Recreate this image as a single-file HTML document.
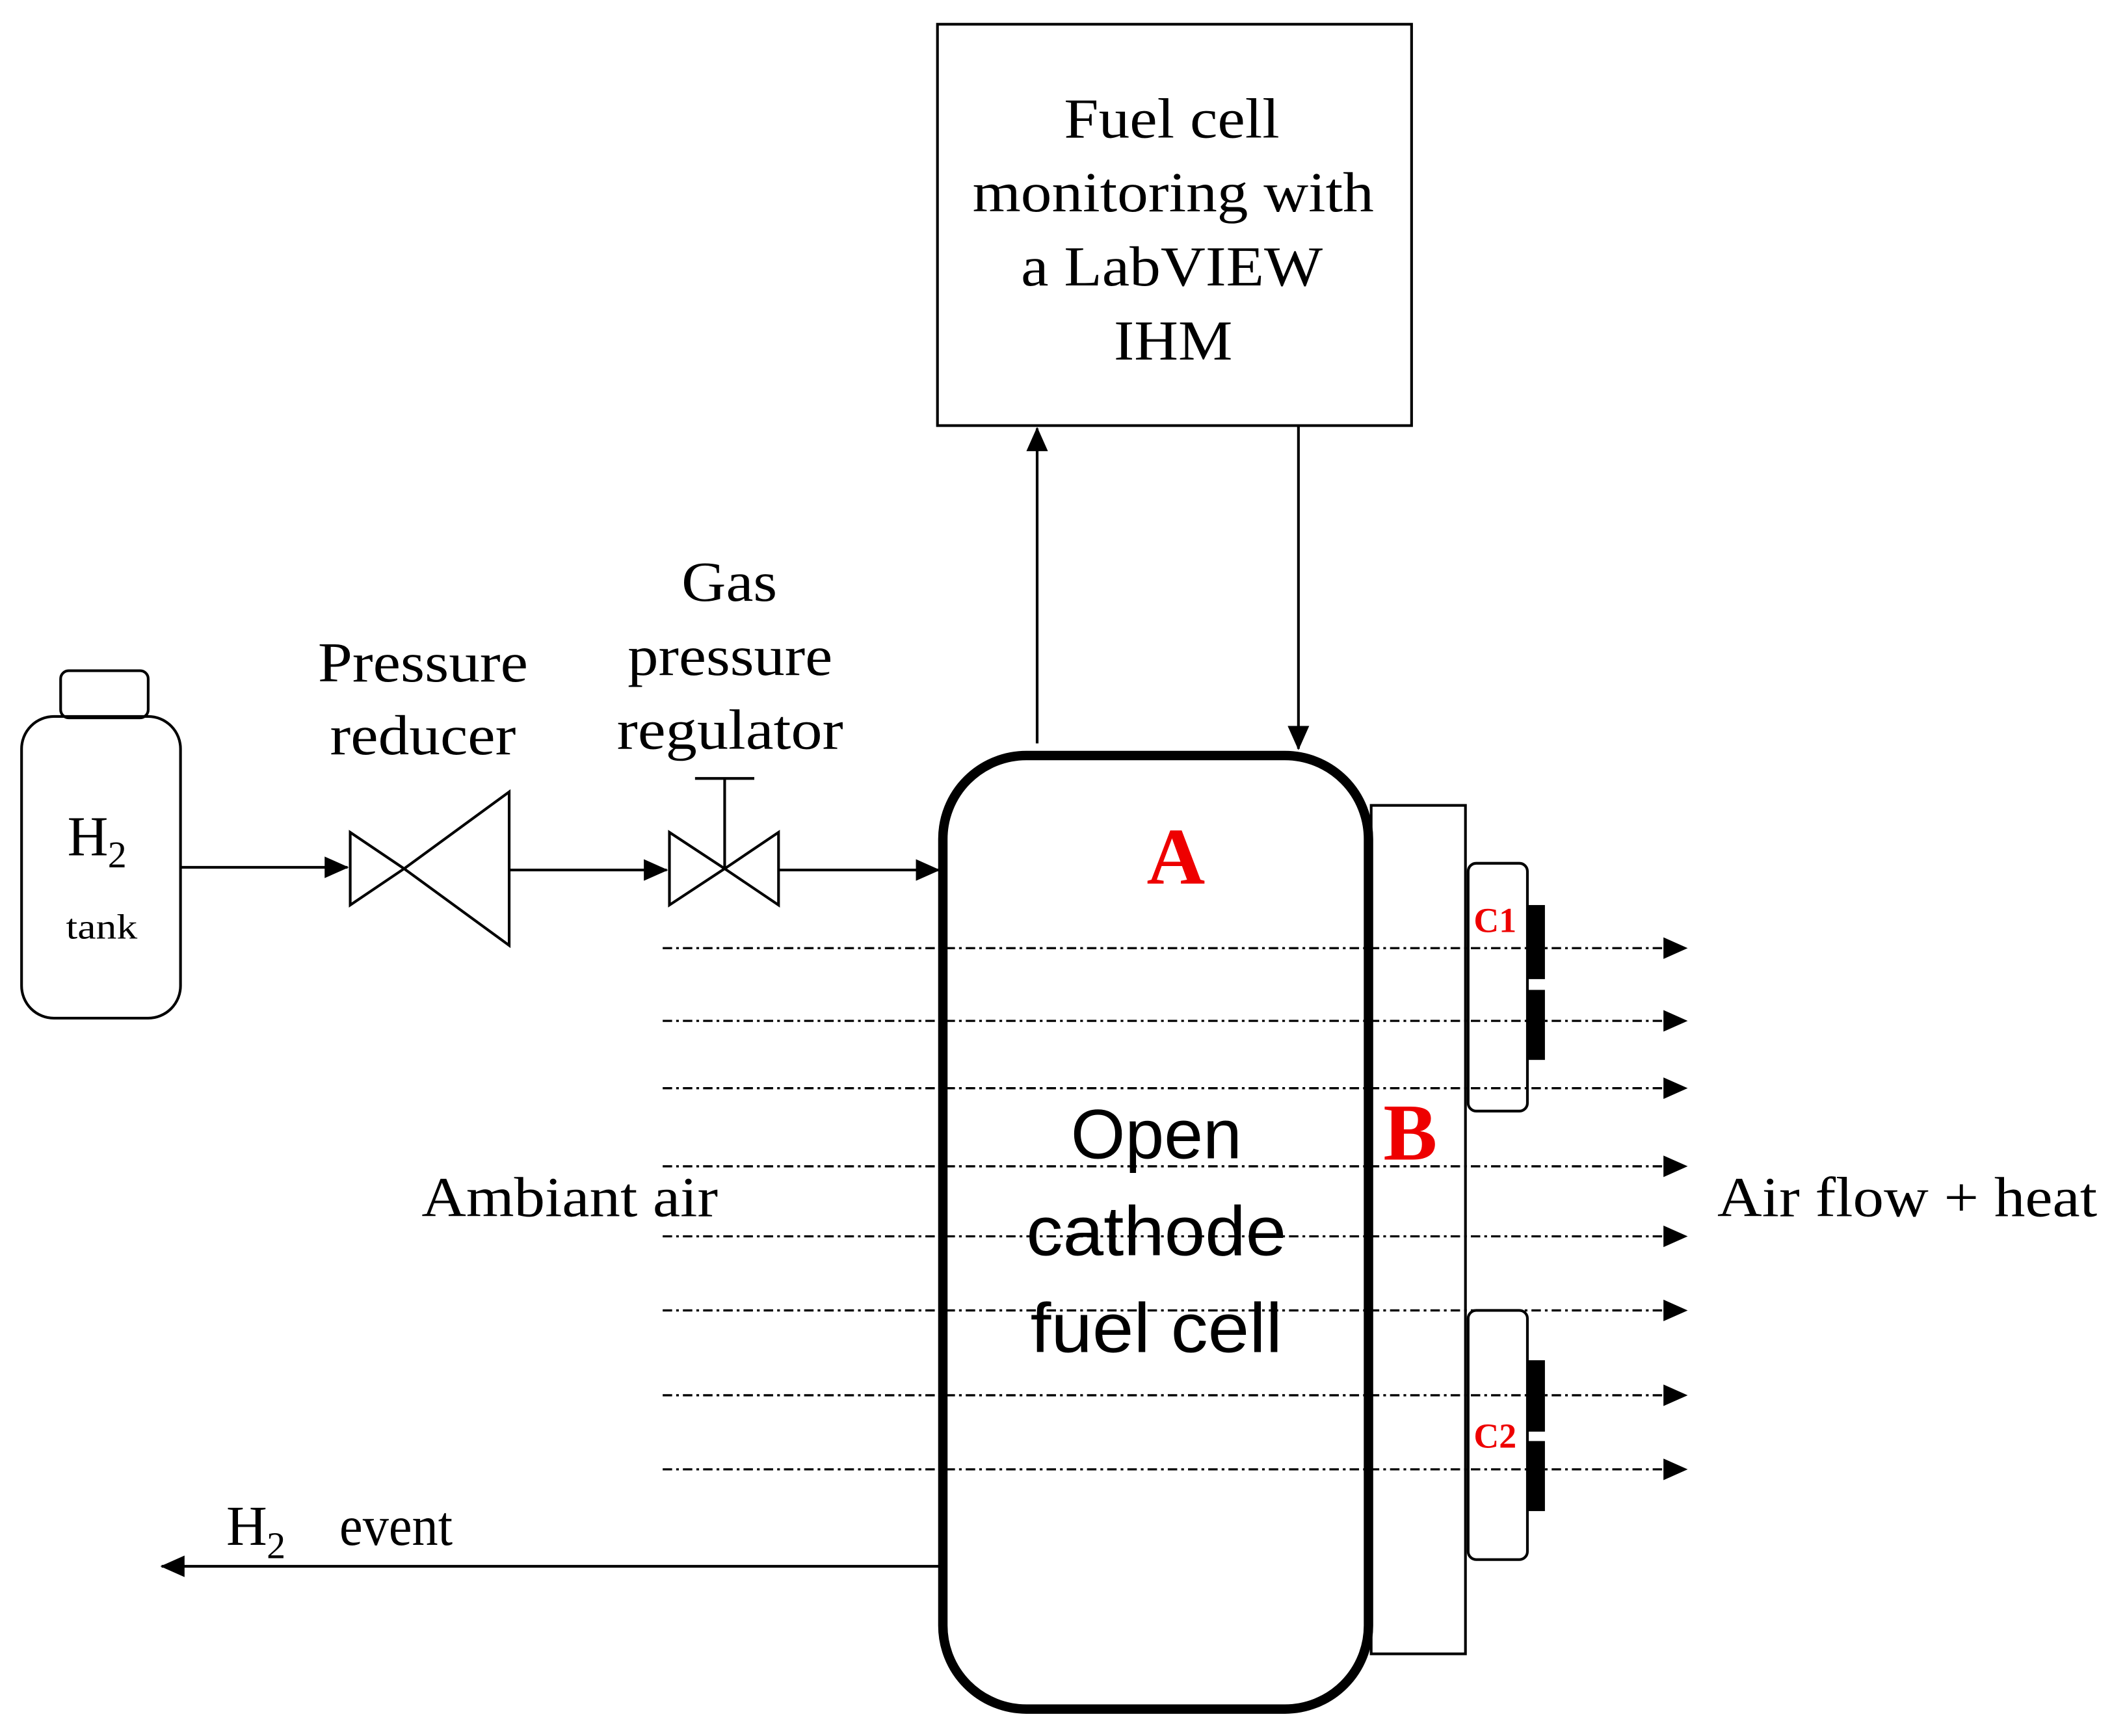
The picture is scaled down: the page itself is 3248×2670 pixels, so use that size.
<!DOCTYPE html>
<html><head><meta charset="utf-8"><style>html,body{margin:0;padding:0;background:#fff}svg{display:block}</style></head>
<body>
<svg width="3248" height="2670" viewBox="0 0 1568 1289" xmlns="http://www.w3.org/2000/svg">
<defs>
<marker id="ah2" markerWidth="18" markerHeight="16" refX="17" refY="8" orient="auto" markerUnits="userSpaceOnUse">
<path d="M0,0 L18,8 L0,16 z" fill="#000"/></marker>
</defs>
<g font-family="Liberation Serif, serif" fill="#000">
<rect x="696" y="18" width="352" height="298" fill="none" stroke="#000" stroke-width="2"/>
<g font-size="42" lengthAdjust="spacingAndGlyphs">
<text x="790" y="102" textLength="160" lengthAdjust="spacingAndGlyphs">Fuel cell</text>
<text x="722" y="157" textLength="298" lengthAdjust="spacingAndGlyphs">monitoring with</text>
<text x="758" y="212" textLength="224" lengthAdjust="spacingAndGlyphs">a LabVIEW</text>
<text x="827" y="267" textLength="88" lengthAdjust="spacingAndGlyphs">IHM</text>
</g>
<line x1="770" y1="552" x2="770" y2="318" stroke="#000" stroke-width="2" marker-end="url(#ah2)"/>
<line x1="964" y1="316" x2="964" y2="556" stroke="#000" stroke-width="2" marker-end="url(#ah2)"/>
<rect x="16" y="532" width="118" height="224" rx="24" fill="none" stroke="#000" stroke-width="2"/>
<rect x="45" y="498" width="65" height="35" rx="6" fill="none" stroke="#000" stroke-width="2"/>
<text x="50" y="635" font-size="42">H</text><text x="80" y="644" font-size="28">2</text>
<text x="49" y="697" font-size="26" textLength="53" lengthAdjust="spacingAndGlyphs">tank</text>
<line x1="134" y1="644" x2="258" y2="644" stroke="#000" stroke-width="2" marker-end="url(#ah2)"/>
<polygon points="260,618 260,672 300,645" fill="none" stroke="#000" stroke-width="2"/>
<polygon points="300,645 378,588 378,702" fill="none" stroke="#000" stroke-width="2"/>
<line x1="378" y1="646" x2="495" y2="646" stroke="#000" stroke-width="2" marker-end="url(#ah2)"/>
<polygon points="497,618 497,672 538,645" fill="none" stroke="#000" stroke-width="2"/>
<polygon points="538,645 578,618 578,672" fill="none" stroke="#000" stroke-width="2"/>
<line x1="538" y1="645" x2="538" y2="578" stroke="#000" stroke-width="2"/>
<line x1="516" y1="578" x2="560" y2="578" stroke="#000" stroke-width="2"/>
<line x1="578" y1="646" x2="697" y2="646" stroke="#000" stroke-width="2" marker-end="url(#ah2)"/>
<g font-size="42">
<text x="236" y="506" textLength="156" lengthAdjust="spacingAndGlyphs">Pressure</text>
<text x="245" y="560" textLength="138" lengthAdjust="spacingAndGlyphs">reducer</text>
<text x="506" y="446" textLength="71" lengthAdjust="spacingAndGlyphs">Gas</text>
<text x="466" y="501" textLength="152" lengthAdjust="spacingAndGlyphs">pressure</text>
<text x="458" y="556" textLength="168" lengthAdjust="spacingAndGlyphs">regulator</text>
</g>
<rect x="1018" y="598" width="70" height="630" fill="none" stroke="#000" stroke-width="2"/>
<rect x="1090" y="641" width="44" height="184" rx="6" fill="none" stroke="#000" stroke-width="2"/>
<rect x="1090" y="973" width="44" height="185" rx="6" fill="none" stroke="#000" stroke-width="2"/>
<rect x="1134" y="672" width="13" height="55" fill="#000"/>
<rect x="1134" y="735" width="13" height="52" fill="#000"/>
<rect x="1134" y="1010" width="13" height="53" fill="#000"/>
<rect x="1134" y="1070" width="13" height="52" fill="#000"/>
<g stroke="#000" stroke-width="1.6" stroke-dasharray="7 3 2 3" marker-end="url(#ah2)">
<line x1="492" y1="704" x2="1252" y2="704"/>
<line x1="492" y1="758" x2="1252" y2="758"/>
<line x1="492" y1="808" x2="1252" y2="808"/>
<line x1="492" y1="866" x2="1252" y2="866"/>
<line x1="492" y1="918" x2="1252" y2="918"/>
<line x1="492" y1="973" x2="1252" y2="973"/>
<line x1="492" y1="1036" x2="1252" y2="1036"/>
<line x1="492" y1="1091" x2="1252" y2="1091"/>
</g>
<rect x="700" y="561" width="316" height="708" rx="62" fill="none" stroke="#000" stroke-width="7"/>
<g font-family="Liberation Sans, sans-serif" font-size="52">
<text x="795" y="860" textLength="127" lengthAdjust="spacingAndGlyphs">Open</text>
<text x="762" y="932" textLength="193" lengthAdjust="spacingAndGlyphs">cathode</text>
<text x="765" y="1004" textLength="187" lengthAdjust="spacingAndGlyphs">fuel cell</text>
</g>
<g fill="#e00" font-weight="bold" text-anchor="middle">
<text x="873" y="656" font-size="60">A</text>
<text x="1047" y="861" font-size="60">B</text>
<text x="1110" y="692" font-size="26">C1</text>
<text x="1110" y="1075" font-size="26">C2</text>
</g>
<text x="313" y="903" font-size="42" textLength="220" lengthAdjust="spacingAndGlyphs">Ambiant air</text>
<text x="1275" y="903" font-size="42" textLength="282" lengthAdjust="spacingAndGlyphs">Air flow + heat</text>
<line x1="697" y1="1163" x2="120" y2="1163" stroke="#000" stroke-width="2" marker-end="url(#ah2)"/>
<text x="168" y="1147" font-size="42">H</text><text x="198" y="1157" font-size="28">2</text>
<text x="252" y="1147" font-size="42" textLength="84" lengthAdjust="spacingAndGlyphs">event</text>
</g>
</svg>
</body></html>
